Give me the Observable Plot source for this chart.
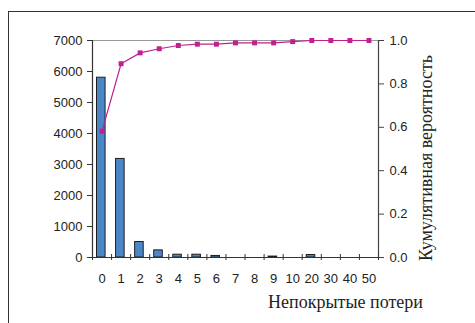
<!DOCTYPE html>
<html>
<head>
<meta charset="utf-8">
<script src="https://cdn.jsdelivr.net/npm/d3@7"></script>
<script src="https://cdn.jsdelivr.net/npm/@observablehq/plot@0.6"></script>
<style>
  html, body { margin: 0; padding: 0; background: #fff; overflow: hidden; }
  #wrap { position: relative; width: 475px; height: 323px; }
  #frame { position: absolute; left: 8px; top: 11px; width: 600px; height: 400px;
           border-left: 1.6px solid #333; border-top: 1.6px solid #333; box-sizing: border-box; }
  #chart { position: absolute; left: 0; top: 0; }
</style>
</head>
<body>
<div id="wrap"><div id="frame"></div><div id="chart"></div></div>
<script>
const categories = ["0","1","2","3","4","5","6","7","8","9","10","20","30","40","50"];
const counts = [5800, 3180, 500, 230, 90, 90, 50, 0, 0, 30, 0, 80, 0, 0, 0];
const cumulative = [0.582, 0.893, 0.943, 0.962, 0.977, 0.983, 0.983, 0.989, 0.989, 0.989, 0.995, 1.0, 1.0, 1.0, 1.0];
const countTicks = [0, 1000, 2000, 3000, 4000, 5000, 6000, 7000];
const probTicks = [0, 0.2, 0.4, 0.6, 0.8, 1.0];
const countMax = 7000;
const xTitle = "Непокрытые потери";
const yTitle = "Кумулятивная вероятность";

const data = categories.map((c, i) => ({i, c, count: counts[i], cum: cumulative[i]}));
const n = categories.length;
const sans = "'Liberation Sans', Arial, sans-serif";
const serif = "'Liberation Serif', 'Times New Roman', serif";

const chart = Plot.plot({
  width: 475, height: 323,
  marginLeft: 92, marginRight: 97, marginTop: 40, marginBottom: 66,
  x: {type: "linear", domain: [0, n], axis: null},
  y: {domain: [0, countMax], axis: null},
  style: {fontFamily: sans, fontSize: "13px", color: "#222", background: "transparent", overflow: "visible"},
  marks: [
    Plot.ruleY([countMax], {stroke: "#999", strokeWidth: 1}),
    Plot.rectY(data.filter(d => d.count > 0), {
      x1: d => d.i, x2: d => d.i + 1, y1: 0, y2: "count",
      fill: "#4a87c9", stroke: "#1e1e1e", strokeWidth: 1, insetLeft: 4.5, insetRight: 6
    }),
    Plot.ruleY([0], {stroke: "#333", strokeWidth: 1.2}),
    Plot.ruleX([0], {stroke: "#333", strokeWidth: 1.2}),
    Plot.ruleX([n], {stroke: "#444", strokeWidth: 1.2}),
    Plot.ruleX(d3.range(n + 1), {x: d => d, y1: 0, y2: 0, insetTop: 3, insetBottom: 3, stroke: "#333"}),
    Plot.axisY({anchor: "left", ticks: countTicks, tickFormat: d3.format("d"), tickSize: 5, tickPadding: 5, label: null,
      stroke: "#333", fontSize: 13, fill: "#222"}),
    Plot.axisY({anchor: "right", ticks: probTicks.map(v => v * countMax),
      tickFormat: d => (d / countMax).toFixed(1), tickSize: 5, tickPadding: 6, label: null,
      stroke: "#444", fontSize: 13, fill: "#222"}),
    Plot.axisX({anchor: "bottom", ticks: d3.range(n).map(i => i + 0.5),
      tickFormat: d => categories[Math.floor(d)], tickSize: 0, tickPadding: 16, label: null,
      fontSize: 13, fill: "#222"}),
    Plot.line(data, {x: d => d.i + 0.5, y: d => d.cum * countMax, stroke: "#c0218f", strokeWidth: 1.2}),
    Plot.dot(data, {x: d => d.i + 0.5, y: d => d.cum * countMax, symbol: "square", r: 2.8, fill: "#c0218f"}),
    Plot.text([xTitle], {frameAnchor: "bottom", textAnchor: "middle", dx: 110, dy: 45, lineAnchor: "middle",
      fontFamily: serif, fontSize: 18, fill: "#222"}),
    Plot.text([yTitle], {frameAnchor: "right", textAnchor: "middle", dx: 48, dy: 9, rotate: -90, lineAnchor: "middle",
      fontFamily: serif, fontSize: 18, fill: "#222"})
  ]
});
d3.select(chart).selectAll("text").each(function() {
  const t = this.textContent;
  if (t === xTitle || t === yTitle) this.style.fontFamily = serif;
  else this.style.fontFamily = sans;
});
document.getElementById("chart").appendChild(chart);
</script>
</body>
</html>
